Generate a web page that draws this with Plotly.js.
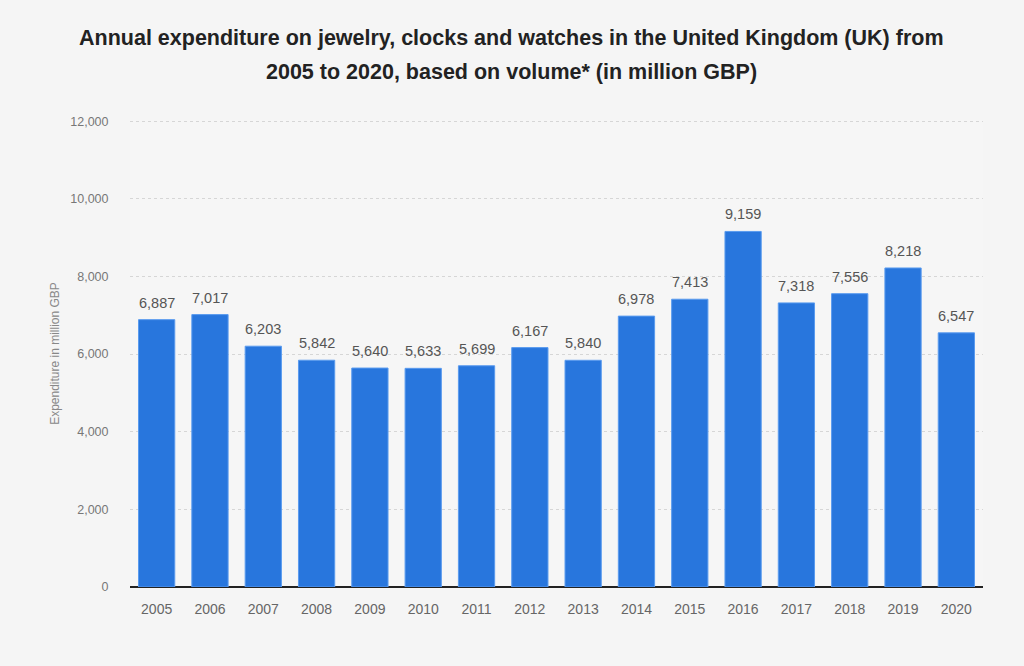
<!DOCTYPE html>
<html>
<head>
<meta charset="utf-8">
<script src="https://cdn.plot.ly/plotly-3.0.1.min.js"></script>
<style>html,body{margin:0;padding:0;background:#f5f5f5;}</style>
</head>
<body>
<div id="chart" style="width:1024px;height:666px;"></div>
<script>
const years = ["2005","2006","2007","2008","2009","2010","2011","2012","2013","2014","2015","2016","2017","2018","2019","2020"];
const expenditure = [6887,7017,6203,5842,5640,5633,5699,6167,5840,6978,7413,9159,7318,7556,8218,6547];
const titleLine1 = "Annual expenditure on jewelry, clocks and watches in the United Kingdom (UK) from";
const titleLine2 = "2005 to 2020, based on volume* (in million GBP)";
const yTitle = "Expenditure in million GBP";

const trace = {
  type: "bar",
  x: years,
  y: expenditure,
  marker: {color: "#2876dd", line: {color: "#5a9bef", width: 1}},
  hoverinfo: "none"
};

// value labels placed above each bar, at the bar's category index
const valueLabels = years.map((yr, i) => ({
  x: i, y: expenditure[i], xref: "x", yref: "y",
  text: expenditure[i].toLocaleString("en-US"),
  showarrow: false, yanchor: "bottom", xanchor: "center", yshift: 7,
  font: {family: "Liberation Sans, Arial, sans-serif", size: 14.5, color: "#555"}
}));

const layout = {
  width: 1024, height: 666,
  paper_bgcolor: "#f5f5f5",
  plot_bgcolor: "#f6f6f6",
  margin: {l: 130, r: 41, t: 120, b: 79},
  bargap: 0.32,
  showlegend: false,
  font: {family: "Liberation Sans, Arial, sans-serif"},
  xaxis: {
    type: "category",
    range: [-0.5, years.length - 0.5],
    tickfont: {size: 14, color: "#666"},
    ticks: "outside", ticklen: 9, tickcolor: "rgba(0,0,0,0)",
    showgrid: false, showline: false, zeroline: false
  },
  yaxis: {
    range: [0, 12030],
    tickvals: [0, 2000, 4000, 6000, 8000, 10000, 12000],
    tickformat: ",d",
    tickfont: {size: 12.5, color: "#777"},
    gridcolor: "#d6d6d6",
    griddash: "dot",
    gridwidth: 1,
    zeroline: true, zerolinecolor: "#222", zerolinewidth: 1.5,
    ticks: "outside", ticklen: 18, tickcolor: "rgba(0,0,0,0)",
    title: {text: yTitle, font: {size: 12, color: "#888"}, standoff: 8}
  },
  annotations: [
    {text: "<b>" + titleLine1 + "</b>", xref: "paper", yref: "paper", x: 0.447, y: 1, xanchor: "center", yanchor: "bottom",
     yshift: 68, showarrow: false, font: {size: 21.5, color: "#222"}},
    {text: "<b>" + titleLine2 + "</b>", xref: "paper", yref: "paper", x: 0.447, y: 1, xanchor: "center", yanchor: "bottom",
     yshift: 34, showarrow: false, font: {size: 21.5, color: "#222"}}
  ].concat(valueLabels)
};

Plotly.newPlot("chart", [trace], layout, {displayModeBar: false, staticPlot: true});
</script>
</body>
</html>
